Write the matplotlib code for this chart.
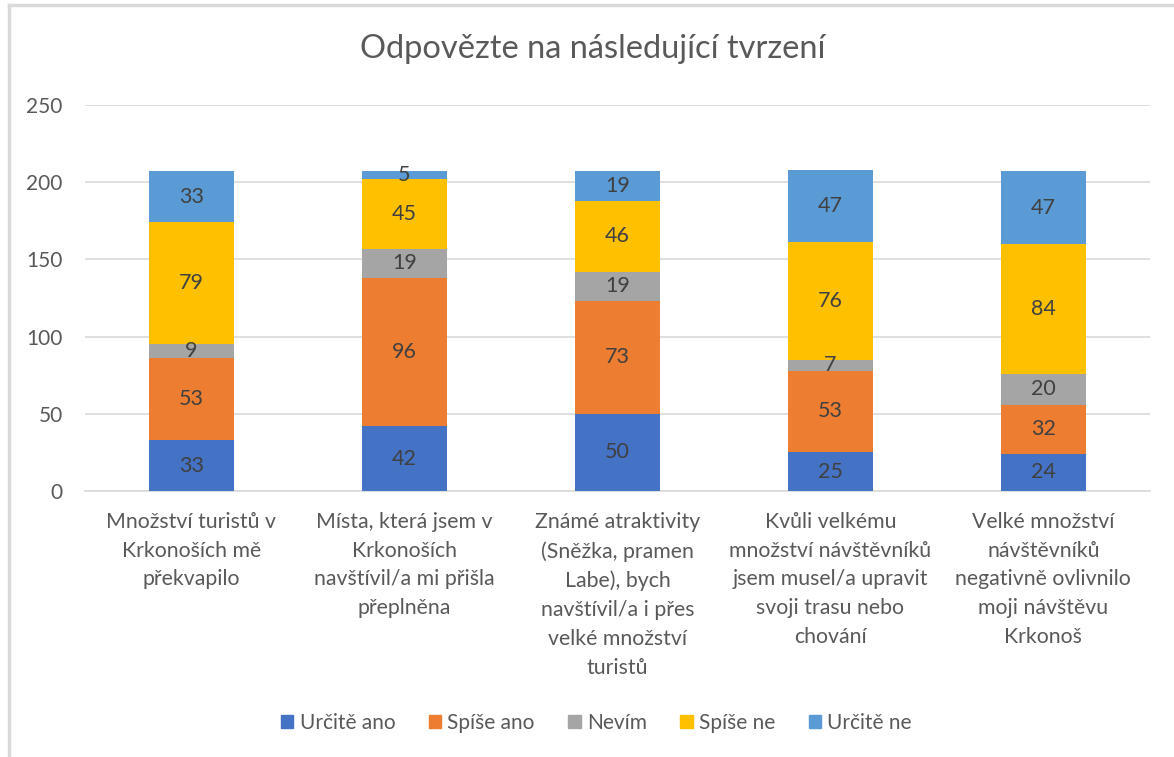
import matplotlib.pyplot as plt
from matplotlib.lines import Line2D
import numpy as np

categories = [
    'Množství turistů v\nKrkonoších mě\npřekvapilo',
    'Místa, která jsem v\nKrkonoších\nnavštívil/a mi přišla\npřeplněna',
    'Známé atraktivity\n(Sněžka, pramen\nLabe), bych\nnavštívil/a i přes\nvelké množství\nturistů',
    'Kvůli velkému\nmnožství návštěvníků\njsem musel/a upravit\nsvoji trasu nebo\nchování',
    'Velké množství\nnávštěvníků\nnegativně ovlivnilo\nmoji návštěvu\nKrkonoš',
]
series = ['Určitě ano', 'Spíše ano', 'Nevím', 'Spíše ne', 'Určitě ne']
urcite_ano = [33, 42, 50, 25, 24]
spise_ano = [53, 96, 73, 53, 32]
nevim = [9, 19, 19, 7, 20]
spise_ne = [79, 45, 46, 76, 84]
urcite_ne = [33, 5, 19, 47, 47]
colors = ['#4472C4', '#ED7D31', '#A5A5A5', '#FFC000', '#5B9BD5']

plt.rcParams['font.family'] = ['Lato', 'DejaVu Sans']

fig = plt.figure(figsize=(11.74, 7.57), dpi=100)
ax = fig.add_axes([0.0724, 0.3514, 0.907, 0.5099])

x = np.arange(len(categories))
bottom = np.zeros(len(categories))
for name, vals, c in zip(series, [urcite_ano, spise_ano, nevim, spise_ne, urcite_ne], colors):
    vals = np.array(vals)
    ax.bar(x, vals, 0.4, bottom=bottom, color=c, label=name, zorder=3)
    for xi, b, v in zip(x, bottom, vals):
        ax.text(xi, b + v / 2, str(v), ha='center', va='center',
                fontsize=15.5, color='#404040', zorder=4)
    bottom += vals

ax.set_xlim(-0.5, len(categories) - 0.5)
ax.set_ylim(0, 250)
ax.set_yticks(range(0, 251, 50))
ax.yaxis.grid(True, color='#D9D9D9', linewidth=1.2, zorder=0)
ax.tick_params(axis='y', length=0, labelsize=15, labelcolor='#595959', pad=16)
ax.tick_params(axis='x', length=0, labelsize=15.3, labelcolor='#595959', pad=15)
ax.set_xticks(x)
ax.set_xticklabels(categories, linespacing=1.55, va='top')
for s in ['top', 'right', 'left']:
    ax.spines[s].set_visible(False)
ax.spines['bottom'].set_color('#D9D9D9')
ax.spines['bottom'].set_linewidth(1.2)

fig.text(0.505, 0.935, 'Odpovězte na následující tvrzení', ha='center', va='center',
         fontsize=23.5, color='#595959')

handles = [plt.Rectangle((0, 0), 1, 1, color=c) for c in colors]
fig.legend(handles, series, loc='center', bbox_to_anchor=(0.508, 0.045), ncol=5,
           frameon=False, fontsize=15, handlelength=0.6, handleheight=0.6,
           handletextpad=0.3, columnspacing=1.6, labelcolor='#595959')

# chart outline (top and left edges visible)
fig.add_artist(Line2D([0.0075, 1.0], [0.9935, 0.9935], color='#D9D9D9', linewidth=2.5))
fig.add_artist(Line2D([0.0075, 0.0075], [0.0, 0.9935], color='#D9D9D9', linewidth=2.5))

fig.savefig('out.png', dpi=100)
